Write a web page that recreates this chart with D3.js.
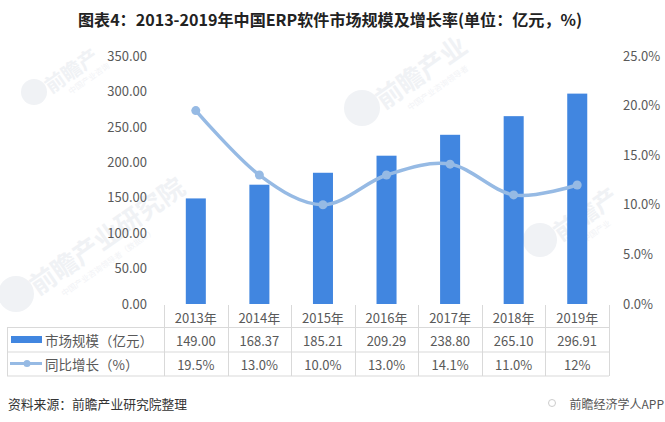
<!DOCTYPE html>
<html><head><meta charset="utf-8">
<script src="https://cdn.jsdelivr.net/npm/d3@7"></script>
<style>body{margin:0;background:#fff}svg{display:block}</style>
</head><body>
<svg id="c" width="665" height="422"></svg>
<script>
const years = ["2013年","2014年","2015年","2016年","2017年","2018年","2019年"];
const marketSize = [149.00,168.37,185.21,209.29,238.80,265.10,296.91];
const marketLabels = ["149.00","168.37","185.21","209.29","238.80","265.10","296.91"];
const growth = [19.5,13.0,10.0,13.0,14.1,11.0,12];
const growthLabels = ["19.5%","13.0%","10.0%","13.0%","14.1%","11.0%","12%"];
const leftTicks = [0,50,100,150,200,250,300,350];
const rightTicks = [0,5,10,15,20,25];
const seriesNames = ["市场规模（亿元）","同比增长（%）"];
const titleText = "图表4：2013-2019年中国ERP软件市场规模及增长率(单位：亿元，%)";
const sourceText = "资料来源：前瞻产业研究院整理";
const brandText = "前瞻经济学人APP";

const FONT = "'Noto Sans CJK SC','Microsoft YaHei',sans-serif";
const BAR = "#4186E0", LINE = "#96BAE4", TXT = "#595959", GRID = "#d9d9d9";
const svg = d3.select("#c").style("font-family", FONT);

// watermarks (kept inside the canvas)
const wms = [
  {x:34,y:92,r:13,s:20,t:"前瞻产",sub:"中国产业咨询"},
  {x:362,y:108,r:18,s:26,t:"前瞻产业",sub:"中国产业咨询领导者"},
  {x:16,y:294,r:18,s:26,t:"前瞻产业研究院",sub:"中国产业咨询领导者（数据库）"},
  {x:540,y:240,r:17,s:24,t:"前瞻产",sub:"中国产业"}
];
const wg = svg.append("g");
wms.forEach(w => {
  wg.append("circle").attr("cx", w.x).attr("cy", w.y).attr("r", w.r).attr("fill", "#f0f2f5");
  const g = wg.append("g").attr("transform", `translate(${w.x + w.r + 4},${w.y + 2}) rotate(-35)`);
  g.append("text").attr("font-size", w.s).attr("font-weight", "bold").attr("fill", "#f0f2f5").text(w.t);
  g.append("text").attr("y", w.s * 0.6).attr("x", w.s * 0.8).attr("font-size", 8).attr("fill", "#f2f3f6").text(w.sub);
});

// title
svg.append("text").attr("x", 330).attr("y", 26).attr("text-anchor", "middle")
  .attr("font-size", 16).attr("font-weight", "bold").attr("fill", "#222")
  .attr("textLength", 504).attr("lengthAdjust", "spacingAndGlyphs").text(titleText);

const x = d3.scaleBand().domain(years).range([164, 609]);
const y = d3.scaleLinear().domain([0, 350]).range([304, 56]);
const y2 = d3.scaleLinear().domain([0, 25]).range([304, 56]);
const bw = x.bandwidth();

// axes
const ax = svg.append("g").attr("transform", "translate(164,0)")
  .call(d3.axisLeft(y).tickValues(leftTicks).tickFormat(d3.format(".2f")).tickSize(0).tickPadding(17));
const ax2 = svg.append("g").attr("transform", "translate(609,0)")
  .call(d3.axisRight(y2).tickValues(rightTicks).tickFormat(d => d3.format(".1f")(d) + "%").tickSize(0).tickPadding(14));
[ax, ax2].forEach(a => {
  a.select(".domain").remove();
  a.selectAll("text").attr("font-size", 13).attr("fill", TXT).attr("font-family", FONT);
});

// bars
svg.append("g").selectAll("rect").data(marketSize).join("rect")
  .attr("x", (d, i) => x(years[i]) + bw * 0.343)
  .attr("width", bw * 0.315)
  .attr("y", d => y(d)).attr("height", d => y(0) - y(d))
  .attr("fill", BAR);

// line
const cx = i => x(years[i]) + bw / 2;
const line = d3.line().x((d, i) => cx(i)).y(d => y2(d)).curve(d3.curveCatmullRom.alpha(0));
svg.append("path").datum(growth).attr("d", line).attr("fill", "none")
  .attr("stroke", LINE).attr("stroke-width", 3.5);
svg.append("g").selectAll("circle").data(growth).join("circle")
  .attr("cx", (d, i) => cx(i)).attr("cy", d => y2(d)).attr("r", 4.5).attr("fill", LINE);

// data table
const tg = svg.append("g").attr("stroke", GRID).attr("stroke-width", 1);
[327.5, 352, 376].forEach(yy => tg.append("line").attr("x1", 7).attr("x2", 609).attr("y1", yy).attr("y2", yy));
tg.append("line").attr("x1", 7.5).attr("x2", 7.5).attr("y1", 327.5).attr("y2", 376);
years.forEach((yr, i) => tg.append("line").attr("x1", Math.round(x(yr)) + 0.5).attr("x2", Math.round(x(yr)) + 0.5).attr("y1", 305).attr("y2", 376));
tg.append("line").attr("x1", 609.5).attr("x2", 609.5).attr("y1", 305).attr("y2", 376);

const cellText = (arr, yy) => svg.append("g").selectAll("text").data(arr).join("text")
  .attr("x", (d, i) => cx(i)).attr("y", yy).attr("text-anchor", "middle").attr("dominant-baseline", "central")
  .attr("font-size", 13).attr("fill", TXT).text(d => d);
cellText(years, 317);
cellText(marketLabels, 340);
cellText(growthLabels, 364);

// legend keys
svg.append("rect").attr("x", 11).attr("y", 336).attr("width", 31).attr("height", 7).attr("fill", BAR);
svg.append("line").attr("x1", 10).attr("x2", 42).attr("y1", 363.5).attr("y2", 363.5).attr("stroke", LINE).attr("stroke-width", 3);
svg.append("circle").attr("cx", 27).attr("cy", 363.5).attr("r", 3.5).attr("fill", LINE);
seriesNames.forEach((s, i) => svg.append("text").attr("x", 45).attr("y", i ? 364 : 340)
  .attr("dominant-baseline", "central").attr("font-size", 13.5).attr("fill", TXT).text(s));

// footer
svg.append("text").attr("x", 8).attr("y", 403).attr("dominant-baseline", "central")
  .attr("font-size", 12.8).attr("fill", "#333").text(sourceText);
svg.append("circle").attr("cx", 552).attr("cy", 403).attr("r", 3.5).attr("fill", "none").attr("stroke", "#ccc");
svg.append("text").attr("x", 664).attr("y", 403).attr("text-anchor", "end").attr("dominant-baseline", "central")
  .attr("font-size", 12).attr("fill", "#555").text(brandText);
</script>
</body></html>
